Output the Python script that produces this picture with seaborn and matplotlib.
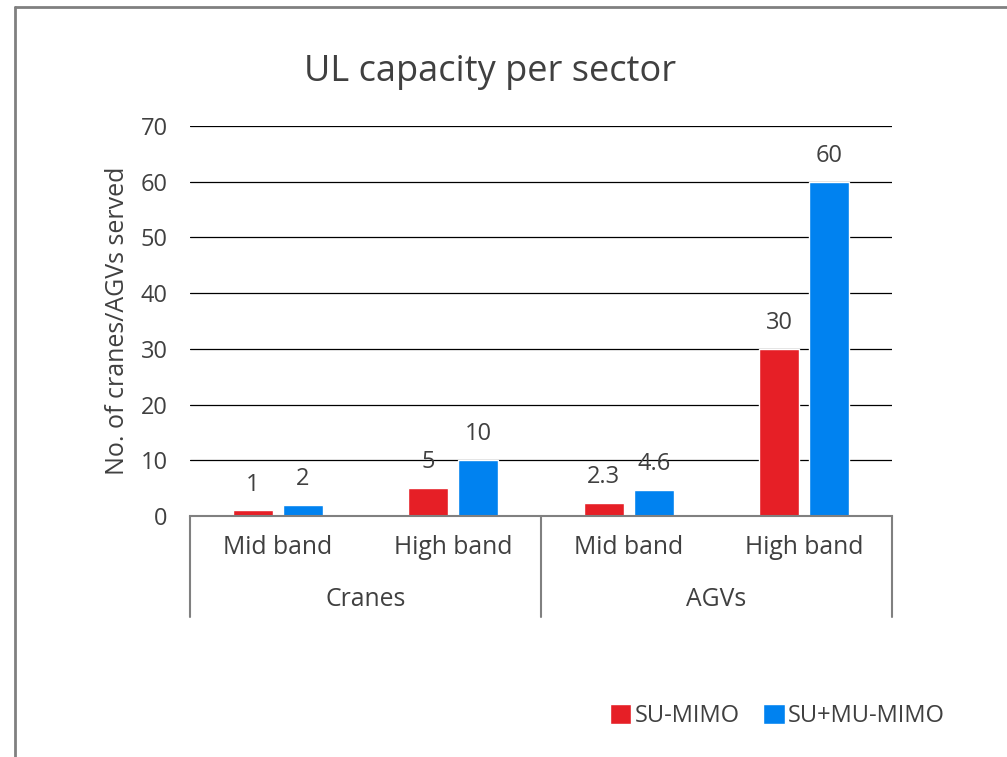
import matplotlib
matplotlib.use("Agg")
import matplotlib.pyplot as plt
import matplotlib.transforms as mtransforms
from matplotlib.lines import Line2D
from matplotlib.patches import Patch
import pandas as pd
import seaborn as sns

# data
groups = ["Cranes", "Cranes", "AGVs", "AGVs"]
bands = ["Mid band", "High band", "Mid band", "High band"]
series = ["SU-MIMO", "SU+MU-MIMO"]
su_mimo = [1, 5, 2.3, 30]
su_mu_mimo = [2, 10, 4.6, 60]
colors = ["#E61F26", "#0082F0"]
y_ticks = [0, 10, 20, 30, 40, 50, 60, 70]

cats = [g + " " + b for g, b in zip(groups, bands)]
df = pd.DataFrame({
    "cat": cats * 2,
    "value": su_mimo + su_mu_mimo,
    "series": [series[0]] * 4 + [series[1]] * 4,
})

sns.set_theme(style="white")
plt.rcParams["font.family"] = ["Open Sans", "DejaVu Sans"]
text_col = "#404040"

fig = plt.figure(figsize=(10.07, 7.57), dpi=100)
ax = fig.add_axes([0.1887, 0.3184, 0.6971, 0.5152])

sns.barplot(data=df, x="cat", y="value", hue="series", order=cats,
            hue_order=series, palette=colors, width=0.57, gap=0.2,
            saturation=1, legend=False, ax=ax)

ax.set_xlim(-0.5, 3.5)
ax.set_ylim(0, 70)
ax.set_yticks(y_ticks)
ax.tick_params(axis="y", length=0, pad=16, labelsize=17, labelcolor=text_col)
ax.set_xticks([])
ax.set_xlabel("")
ax.set_ylabel("No. of cranes/AGVs served", fontsize=18, color=text_col, labelpad=8)
ax.yaxis.grid(True, color="black", lw=0.9)
ax.set_axisbelow(True)
for s in ["top", "left", "right"]:
    ax.spines[s].set_visible(False)
ax.spines["bottom"].set_color("#808080")
ax.spines["bottom"].set_linewidth(1.5)

# value labels
for cont, vals in zip(ax.containers, [su_mimo, su_mu_mimo]):
    for bar, v in zip(cont, vals):
        ax.annotate(f"{v:g}", (bar.get_x() + bar.get_width() / 2, bar.get_height()),
                    xytext=(0, 10), textcoords="offset points", ha="center",
                    va="bottom", fontsize=17, color=text_col)

# two-level category axis
trans = mtransforms.blended_transform_factory(ax.transData, ax.transAxes)
for i, b in enumerate(bands):
    ax.text(i, -0.08, b, transform=trans, ha="center", va="center",
            fontsize=17.8, color=text_col)
group_names = list(dict.fromkeys(groups))
for j, g in enumerate(group_names):
    ax.text(2 * j + 0.5, -0.215, g, transform=trans, ha="center", va="center",
            fontsize=17.8, color=text_col)
for xb in [-0.5, 1.5, 3.5]:
    ax.plot([xb, xb], [0, -0.259], transform=trans, color="#808080", lw=1.5,
            clip_on=False)

fig.text(0.487, 0.905, "UL capacity per sector", ha="center", va="center",
         fontsize=26, color=text_col)

handles = [Patch(facecolor=c, label=s) for c, s in zip(colors, series)]
fig.legend(handles=handles, loc="center", bbox_to_anchor=(0.772, 0.054),
           ncol=2, frameon=False, fontsize=17, handlelength=0.9, handleheight=0.9,
           handletextpad=0.15, columnspacing=1.0, labelcolor=text_col)

# figure border (top and left)
y_top = 1 - 6.5 / 757
x_left = 15 / 1007
fig.add_artist(Line2D([x_left, 1], [y_top, y_top], color="#808080", lw=2))
fig.add_artist(Line2D([x_left, x_left], [0, y_top], color="#808080", lw=2))

fig.savefig("out.png", dpi=100)
